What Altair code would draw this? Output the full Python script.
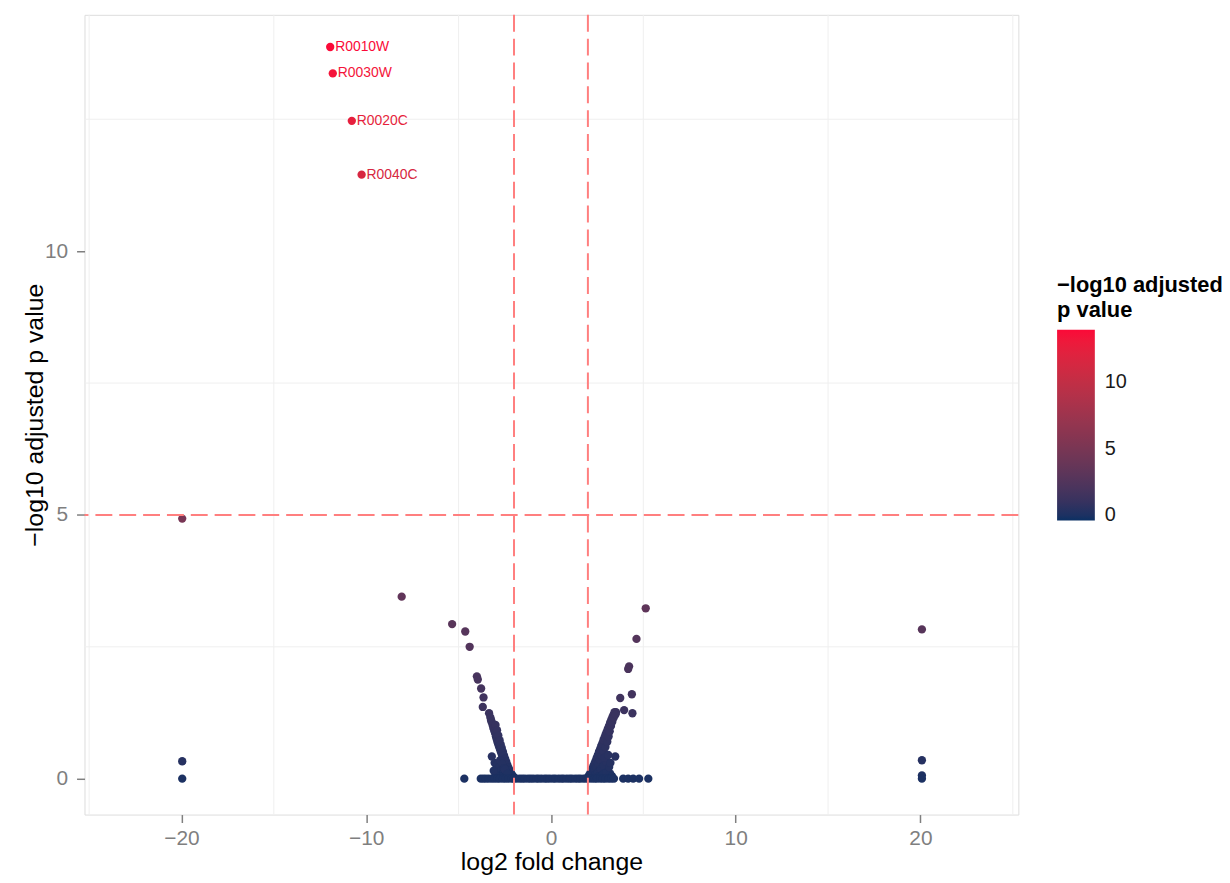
import altair as alt
import pandas as pd

FONT = "Liberation Sans"

# labelled top hits
lab_names = ["R0010W", "R0030W", "R0020C", "R0040C"]
lab_x = [-11.95, -11.81, -10.78, -10.25]
lab_y = [13.87, 13.37, 12.47, 11.45]

# isolated points
iso_x = [-19.96, -19.96, -19.96, 20.08, 20.08, 20.08, 20.08,
         -8.08, -5.35, -4.64, -4.40,
         5.13, 4.63, 4.23, 4.18, 4.38, 3.75, 3.96, 4.41, 3.52,
         -4.01, -3.96, -3.78, -3.65, -3.69, -3.35, -3.24]
iso_y = [4.93, 0.33, 0.0, 2.83, 0.35, 0.06, 0.0,
         3.45, 2.93, 2.79, 2.50,
         3.23, 2.65, 2.13, 2.08, 1.60, 1.53, 1.30, 1.24, 1.26,
         1.94, 1.88, 1.71, 1.54, 1.36, 1.24, 1.11]

# left arm of the volcano
left_x = [-3.28, -3.22, -3.16, -3.12, -3.06, -3.02, -2.98, -2.94, -2.90, -2.86,
          -2.82, -2.78, -2.74, -2.70, -2.66, -2.62, -2.58, -2.54, -2.50, -2.46,
          -2.42, -2.38, -2.34, -2.30, -2.26, -2.22, -2.18, -2.14, -2.10, -2.06,
          -3.00, -2.92, -2.85, -2.78, -2.72, -2.66, -2.60, -2.54, -2.48, -2.42,
          -2.36, -2.30, -2.24, -2.18, -2.12, -2.06, -2.02,
          -3.20, -3.05, -2.95, -2.85, -2.90, -2.80, -2.70, -2.60, -2.75, -2.65,
          -2.55, -2.45, -2.40, -2.30, -2.60, -2.80, -3.00, -3.10, -2.50, -2.35]
left_y = [1.16, 1.08, 1.02, 0.96, 0.90, 0.86, 0.80, 0.75, 0.70, 0.66,
          0.62, 0.58, 0.54, 0.50, 0.46, 0.42, 0.38, 0.34, 0.30, 0.27,
          0.24, 0.20, 0.17, 0.14, 0.11, 0.08, 0.06, 0.04, 0.02, 0.01,
          1.02, 0.92, 0.82, 0.73, 0.65, 0.58, 0.51, 0.44, 0.38, 0.32,
          0.26, 0.21, 0.16, 0.12, 0.08, 0.05, 0.03,
          0.42, 0.30, 0.20, 0.12, 0.28, 0.22, 0.15, 0.10, 0.35, 0.28,
          0.20, 0.12, 0.06, 0.04, 0.05, 0.05, 0.08, 0.15, 0.18, 0.09]

# right arm of the volcano
right_x = [2.00, 2.06, 2.12, 2.18, 2.24, 2.30, 2.36, 2.42, 2.48, 2.54,
           2.60, 2.66, 2.72, 2.78, 2.84, 2.90, 2.96, 3.02, 3.08, 3.14,
           3.20, 3.26, 3.32, 3.38, 3.44,
           2.15, 2.25, 2.35, 2.45, 2.55, 2.65, 2.75, 2.85, 2.95, 3.05,
           3.12, 3.18, 3.25, 3.32, 3.40, 3.50,
           2.40, 2.55, 2.70, 2.85, 3.00, 2.60, 2.80, 3.00, 3.20, 2.90,
           3.10, 3.48, 3.30, 3.15, 3.22]
right_y = [0.03, 0.06, 0.10, 0.14, 0.19, 0.24, 0.29, 0.34, 0.40, 0.45,
           0.51, 0.56, 0.62, 0.67, 0.73, 0.78, 0.84, 0.89, 0.95, 1.00,
           1.06, 1.11, 1.16, 1.21, 1.26,
           0.04, 0.10, 0.16, 0.22, 0.29, 0.36, 0.44, 0.52, 0.60, 0.70,
           0.80, 0.90, 1.00, 1.08, 1.16, 1.22,
           0.08, 0.12, 0.18, 0.25, 0.32, 0.05, 0.08, 0.12, 0.10, 0.40,
           0.45, 0.42, 0.05, 0.22, 0.30]

# row of points at zero
zero_x = [-4.69, -3.80, -3.66, -3.52, -3.37, -3.21, -3.06, -2.91, -2.77, -2.60,
          -2.46, -2.31, -2.14, -2.01, -1.86, -1.69, -1.55, -1.41, -1.24, -1.10,
          -0.96, -0.79, -0.66, -0.51, -0.34, -0.21, -0.06, 0.11, 0.24, 0.41,
          0.56, 0.69, 0.86, 1.01, 1.14, 1.31, 1.46, 1.59, 1.76, 1.91,
          2.04, 2.21, 2.36, 2.49, 2.66, 2.81, 2.94, 3.11, 3.26, 3.41,
          3.91, 4.18, 4.45, 4.77, 5.27]
zero_y = [0.0] * len(zero_x)

grid_x = [-25, -15, -5, 5, 15, 25]
grid_y = [2.5, 7.5, 12.5]
vthr = [-2, 2]
hthr = [5]

pts = pd.DataFrame({
    "x": iso_x + left_x + right_x + zero_x,
    "y": iso_y + left_y + right_y + zero_y,
})
labs = pd.DataFrame({"x": lab_x, "y": lab_y, "label": lab_names})

x_enc = alt.X(
    "x:Q",
    scale=alt.Scale(domain=[-25.25, 25.3], nice=False, zero=False),
    axis=alt.Axis(values=[-20, -10, 0, 10, 20], title="log2 fold change", grid=False,
                  domain=False, tickColor="#7f7f7f", tickSize=8, tickWidth=1.5,
                  labelColor="#7f7f7f", labelFontSize=21, labelPadding=5,
                  titleFontSize=25, titleColor="black", titleFontWeight="normal",
                  titlePadding=1, labelFont=FONT, titleFont=FONT),
)
y_enc = alt.Y(
    "y:Q",
    scale=alt.Scale(domain=[-0.68, 14.48], nice=False, zero=False),
    axis=alt.Axis(values=[0, 5, 10], title="−log10 adjusted p value", grid=False,
                  domain=False, tickColor="#7f7f7f", tickSize=8, tickWidth=1.5,
                  labelColor="#7f7f7f", labelFontSize=21, labelPadding=9,
                  titleFontSize=25, titleColor="black", titleFontWeight="normal",
                  titlePadding=-3, labelFont=FONT, titleFont=FONT),
)
color_scale = alt.Scale(domain=[-0.37, 13.87], range=["#0b3063", "#fb0a38"], interpolate="lab")
color_enc = alt.Color(
    "y:Q",
    scale=color_scale,
    legend=alt.Legend(
        title=["−log10 adjusted", "p value"], orient="none", legendX=979, legendY=262,
        values=[0, 5, 10], gradientLength=192, gradientThickness=38,
        gradientStrokeWidth=0, labelFontSize=20, labelColor="#1a1a1a",
        labelOffset=10, labelBaseline="middle", titleFontSize=22,
        titleFontWeight="bold", titleColor="black",
        titleLineHeight=25, titlePadding=8, titleLimit=400, labelFont=FONT,
        titleFont=FONT, direction="vertical",
    ),
)

grid_v = alt.Chart(pd.DataFrame({"x": grid_x})).mark_rule(color="#efefef", strokeWidth=1).encode(x=x_enc)
grid_h = alt.Chart(pd.DataFrame({"y": grid_y})).mark_rule(color="#efefef", strokeWidth=1).encode(y=y_enc)
points = alt.Chart(pts).mark_circle(size=70, opacity=1).encode(x=x_enc, y=y_enc, color=color_enc)
lab_pts = alt.Chart(labs).mark_circle(size=70, opacity=1).encode(x=x_enc, y=y_enc, color=color_enc)
lab_txt = alt.Chart(labs).mark_text(align="left", baseline="middle", dx=5, fontSize=14, font=FONT).encode(
    x=x_enc, y=y_enc, text="label:N", color=color_enc)
vlines = alt.Chart(pd.DataFrame({"x": vthr})).mark_rule(color="#ff7f7f", strokeWidth=2, strokeDash=[17, 7]).encode(x=x_enc)
hline = alt.Chart(pd.DataFrame({"y": hthr})).mark_rule(color="#ff7f7f", strokeWidth=2, strokeDash=[17, 7]).encode(y=y_enc)

chart = alt.layer(grid_v, grid_h, points, lab_pts, lab_txt, vlines, hline).properties(
    width=940, height=805,
    autosize=alt.AutoSizeParams(type="none"),
    padding={"left": 77, "top": 4, "right": 205, "bottom": 62},
).configure_view(stroke=None).configure(font=FONT)

chart.save("out.html", embed_options={"renderer": "svg", "actions": False})
